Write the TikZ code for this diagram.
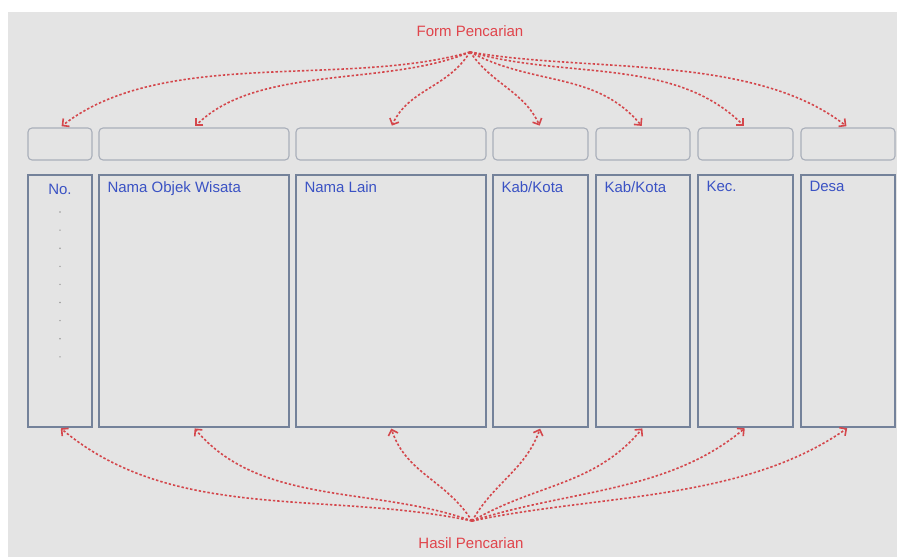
\documentclass[tikz,border=0pt]{standalone}
\usepackage{fontspec}
\setmainfont{Liberation Sans}
\usetikzlibrary{arrows.meta, positioning}

\definecolor{bgray}{HTML}{E4E4E4}
\definecolor{fieldline}{HTML}{A9AFBA}
\definecolor{colline}{HTML}{74829A}
\definecolor{labelblue}{HTML}{3A52C4}
\definecolor{linkred}{HTML}{D4474C}
\definecolor{titlered}{HTML}{E0454C}
\definecolor{dotgray}{HTML}{9A9A9A}

\begin{document}
\begin{tikzpicture}[x=1pt, y=-1pt,
    fieldbox/.style={draw=fieldline, rounded corners=4pt, line width=1.1pt, minimum height=32pt, inner sep=0pt},
    colbox/.style={draw=colline, line width=1.3pt, minimum height=252pt, inner sep=0pt},
    collabel/.style={text=labelblue, font=\fontsize{15}{17}\selectfont, inner sep=0pt},
    title/.style={text=titlered, font=\fontsize{15}{17}\selectfont, inner sep=0pt},
    link/.style={draw=linkred, line width=1.6pt, dash pattern=on 2.4pt off 2pt,
        -{Straight Barb[length=5pt,width=10pt]}}
]
    \useasboundingbox (0,0) rectangle (897,557);
    \fill[bgray] (8,12) rectangle (897,557);

    % titles and the points the links start from
    \node[title] (form) at (470,31) {Form Pencarian};
    \coordinate (fh) at (470,52);
    \node[title] (hasil) at (471,543) {Hasil Pencarian};
    \coordinate (hh) at (472,521);

    % search fields
    \node[fieldbox, minimum width=64pt] (f1) at (60,144) {};
    \node[fieldbox, minimum width=190pt] (f2) at (194,144) {};
    \node[fieldbox, minimum width=190pt] (f3) at (391,144) {};
    \node[fieldbox, minimum width=95pt] (f4) at (540.5,144) {};
    \node[fieldbox, minimum width=94pt] (f5) at (643,144) {};
    \node[fieldbox, minimum width=95pt] (f6) at (745.5,144) {};
    \node[fieldbox, minimum width=94pt] (f7) at (848,144) {};

    % result columns
    \node[colbox, minimum width=64pt] (c1) at (60,301) {};
    \node[colbox, minimum width=190pt] (c2) at (194,301) {};
    \node[colbox, minimum width=190pt] (c3) at (391,301) {};
    \node[colbox, minimum width=95pt] (c4) at (540.5,301) {};
    \node[colbox, minimum width=94pt] (c5) at (643,301) {};
    \node[colbox, minimum width=95pt] (c6) at (745.5,301) {};
    \node[colbox, minimum width=94pt] (c7) at (848,301) {};

    % column headings
    \node[collabel, anchor=north] (l1) at ([yshift=-10pt]c1.north) {No.};
    \node[collabel, anchor=north west] (l2) at ([shift={(9pt,-7pt)}]c2.north west) {Nama Objek Wisata};
    \node[collabel, anchor=north west] (l3) at ([shift={(9pt,-7pt)}]c3.north west) {Nama Lain};
    \node[collabel, anchor=north west] (l4) at ([shift={(9pt,-7pt)}]c4.north west) {Kab/Kota};
    \node[collabel, anchor=north west] (l5) at ([shift={(9pt,-7pt)}]c5.north west) {Kab/Kota};
    \node[collabel, anchor=north west] (l6) at ([shift={(9pt,-7pt)}]c6.north west) {Kec.};
    \node[collabel, anchor=north west] (l7) at ([shift={(9pt,-7pt)}]c7.north west) {Desa};

    % row dots under No.
    \foreach \k in {0,...,8}
        \fill[dotgray] (60,212+18.1*\k) circle (0.8pt);

    % form -> fields
    \draw[link, shorten >=2pt] (fh) to[out=196, in=38, looseness=0.8] (f1.north);
    \draw[link, shorten >=2pt] (fh) to[out=203, in=45, looseness=0.8] (f2.north);
    \draw[link, shorten >=2pt] (fh) to[out=238, in=65] (f3.north);
    \draw[link, shorten >=2pt] (fh) to[out=-55, in=115] (f4.north);
    \draw[link, shorten >=2pt] (fh) to[out=-28, in=130] (f5.north);
    \draw[link, shorten >=2pt] (fh) to[out=-16, in=135, looseness=0.9] (f6.north);
    \draw[link, shorten >=2pt] (fh) to[out=-10, in=142, looseness=0.8] (f7.north);

    % results <- hasil
    \draw[link, shorten >=1pt] (hh) to[out=168, in=-40, looseness=0.9] (c1.south);
    \draw[link, shorten >=1pt] (hh) to[out=160, in=-50, looseness=0.9] (c2.south);
    \draw[link, shorten >=1pt] (hh) to[out=122, in=-72] (c3.south);
    \draw[link, shorten >=1pt] (hh) to[out=60, in=-110] (c4.south);
    \draw[link, shorten >=1pt] (hh) to[out=30, in=-130] (c5.south);
    \draw[link, shorten >=1pt] (hh) to[out=18, in=-140, looseness=0.9] (c6.south);
    \draw[link, shorten >=1pt] (hh) to[out=12, in=-145, looseness=0.85] (c7.south);
\end{tikzpicture}
\end{document}
